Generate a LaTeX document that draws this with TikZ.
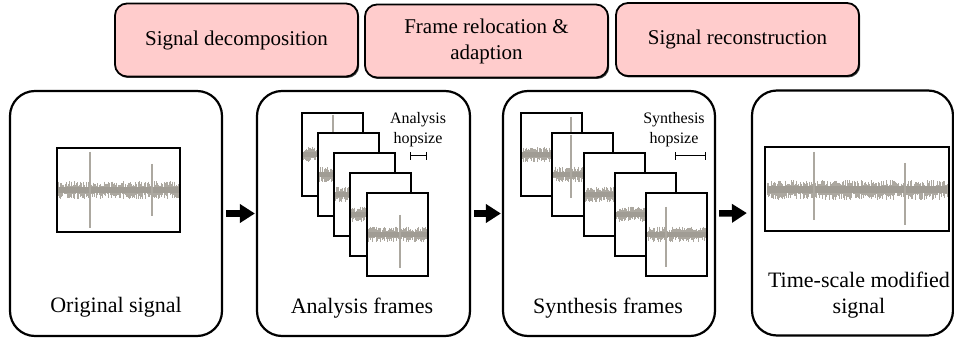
\documentclass[tikz,border=0pt]{standalone}
\usepackage{fontspec}
\setmainfont{Liberation Serif}
\newfontfamily\lserif{Liberation Serif}
\usetikzlibrary{arrows.meta,shadows}
\definecolor{wavecol}{RGB}{172,168,160}
\definecolor{wavecore}{RGB}{160,156,148}
\definecolor{pinkfill}{RGB}{255,204,204}
% #1 x start, #2 width, #3 y centre, #4 amplitude, #5 seed, #6 number of strokes
\newcommand\mywave[6]{%
  \pgfmathsetseed{#5}%
  \pgfmathsetmacro\wstep{#2/#6}%
  \foreach \k in {0,...,#6}{%
    \pgfmathsetmacro\xx{#1+\k*\wstep}%
    \pgfmathsetmacro\aa{#4*(0.3+0.7*rnd)}%
    \pgfmathsetmacro\bb{#4*(0.3+0.7*rnd)}%
    \draw[wavecol,line width=0.6pt] (\xx,#3-\aa) -- (\xx,#3+\bb);
  }%
  \fill[wavecore] (#1,#3-0.35*#4) rectangle (#1+#2,#3+0.35*#4);
}
% #1 x, #2 y (top-left), #3 seed, #4 extra code inside frame
\newcommand\myframe[4]{%
  \fill[white] (#1,#2) rectangle ++(61,83);
  \begin{scope}
    \clip (#1,#2) rectangle ++(61,83);
    \mywave{#1}{61}{#2+41.5}{8}{#3}{80}
    #4
  \end{scope}
  \draw[frm] (#1,#2) rectangle ++(61,83);
}
\begin{document}
\begin{tikzpicture}[x=1pt,y=-1pt,
  bigbox/.style={draw,line width=2.2pt,rounded corners=25pt,minimum width=#1,minimum height=245pt,inner sep=0pt},
  topbox/.style={draw,line width=1.8pt,rounded corners=12pt,fill=pinkfill,minimum width=243pt,minimum height=73pt,
     align=center,font=\lserif\fontsize{21}{26}\selectfont,
     drop shadow={shadow xshift=1.2pt,shadow yshift=-1.5pt,fill=black!75,opacity=1}},
  lbl/.style={font=\lserif\fontsize{22}{26}\selectfont,align=center,inner sep=0pt},
  small/.style={font=\lserif\fontsize{16}{20}\selectfont,align=center,inner sep=0pt},
  frm/.style={line width=2.2pt},
  sigbox/.style={line width=2pt},
  spk/.style={wavecol,line width=1.2pt},
  bigarrow/.style={-{Triangle[length=15pt,width=18pt]},line width=6.5pt},
  hop/.style={{Bar[width=8pt]}-{Bar[width=8pt]},line width=1pt}]
\useasboundingbox (0,0) rectangle (954,342);

% top stage boxes
\node[topbox] (t1) at (236.5,40) {Signal decomposition};
\node[topbox] (t2) at (486.5,41) {Frame relocation \&\\adaption};
\node[topbox] (t3) at (737.5,39.5) {Signal reconstruction};

% main boxes
\node[bigbox=212pt] (A) at (116,213.5) {};
\node[bigbox=213pt] (B) at (363.5,213.5) {};
\node[bigbox=212pt] (C) at (609,213.5) {};
\node[bigbox=201pt] (D) at (852.5,213) {};

% arrows
\draw[bigarrow,shorten <=3pt,shorten >=1pt] (A.east) -- (B.west);
\draw[bigarrow,shorten <=3pt,shorten >=1pt] (B.east) -- (C.west);
\draw[bigarrow,shorten <=3pt,shorten >=4pt] (C.east) -- (D.west);

% original signal
\fill[white] (57,148) rectangle (180,232);
\begin{scope}
  \clip (57,148) rectangle (180,232);
  \mywave{58}{121}{190}{9}{7}{160}
  \draw[spk] (90,152) -- (90,228);
  \draw[spk] (152,164) -- (152,216);
\end{scope}
\draw[sigbox] (57,148) rectangle (180,232);
\node[lbl] (la) at (116,307) {Original signal};

% analysis frames
\myframe{302}{113}{11}{\draw[spk] (333,115) -- (333,190);}
\myframe{318}{133}{12}{}
\myframe{334}{153}{13}{}
\myframe{350}{173}{14}{}
\myframe{367}{193}{15}{\draw[spk] (400,215) -- (400,268);}
\node[small] (ah) at (418,130) {Analysis\\hopsize};
\coordinate (ah1) at (410,156);
\coordinate (ah2) at (427,156);
\draw[hop] (ah1) -- (ah2);
\node[lbl] (lb) at (362,308) {Analysis frames};

% synthesis frames
\myframe{521}{113}{21}{\draw[spk] (571,117) -- (571,196);}
\myframe{552}{133}{22}{\draw[spk] (571,135) -- (571,198);}
\myframe{584}{153}{23}{}
\myframe{615}{173}{24}{}
\myframe{646}{193}{25}{\draw[spk] (666,207) -- (666,267);}
\node[small] (sh) at (674,130) {Synthesis\\hopsize};
\coordinate (sh1) at (675,156);
\coordinate (sh2) at (706,156);
\draw[hop] (sh1) -- (sh2);
\node[lbl] (lc) at (608,308) {Synthesis frames};

% time-scale modified signal
\fill[white] (765,147) rectangle (949,231);
\begin{scope}
  \clip (765,147) rectangle (949,231);
  \mywave{767}{180}{190}{10}{31}{230}
  \draw[spk] (814,152) -- (814,220);
  \draw[spk] (905,163) -- (905,225);
\end{scope}
\draw[sigbox] (765,147) rectangle (949,231);
\node[lbl] (ld) at (859,295) {Time-scale modified\\signal};
\end{tikzpicture}
\end{document}
